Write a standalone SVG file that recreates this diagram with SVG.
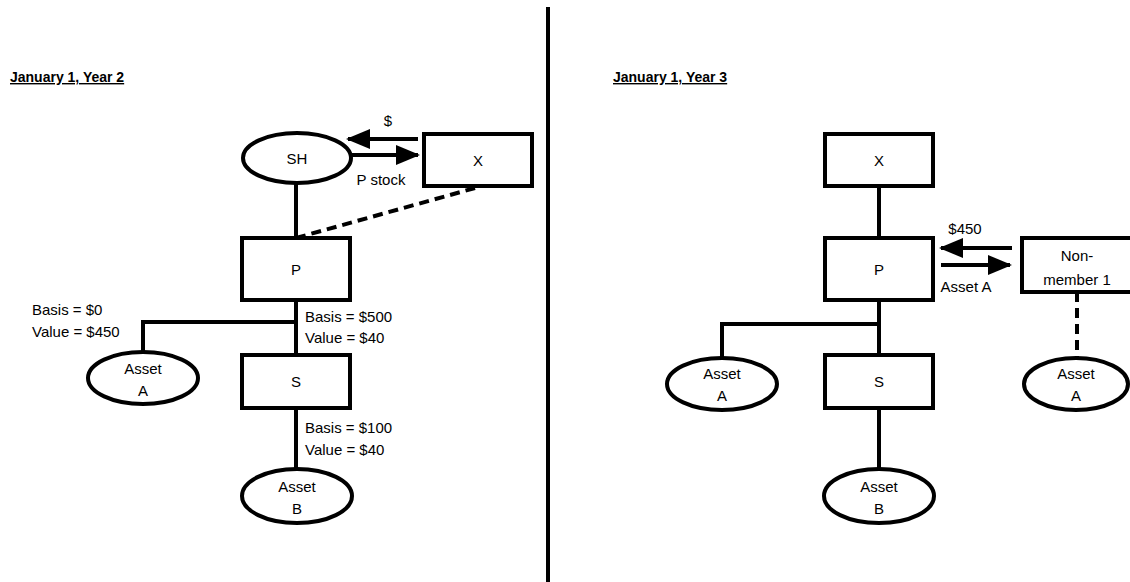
<svg xmlns="http://www.w3.org/2000/svg" width="1130" height="582" viewBox="0 0 1130 582">
<style>
text{font-family:"Liberation Sans",Arial,sans-serif;font-size:15px;fill:#000}
.t{font-weight:bold;font-size:14px;text-decoration:underline}
.c{text-anchor:middle}
.n{fill:#fff;stroke:#000;stroke-width:4}
.l{stroke:#000;stroke-width:4;fill:none}
.d{stroke:#000;stroke-width:4;fill:none;stroke-dasharray:10,6}
</style>
<defs>
<marker id="ah" markerWidth="6" markerHeight="5" refX="5.5" refY="2.5" orient="auto" markerUnits="strokeWidth">
<path d="M0,0 L6,2.5 L0,5 Z" fill="#000"/>
</marker>
</defs>
<rect width="1130" height="582" fill="#fff"/>
<line x1="548" y1="7" x2="548" y2="582" stroke="#000" stroke-width="4"/>
<text class="t" x="10" y="82">January 1, Year 2</text>
<text class="t" x="613" y="82">January 1, Year 3</text>
<g id="connectors">
<line class="l" x1="296" y1="183" x2="296" y2="238"/>
<line class="d" x1="296" y1="238" x2="475" y2="188"/>
<line class="l" x1="418" y1="139" x2="348" y2="139" marker-end="url(#ah)"/>
<line class="l" x1="352" y1="155" x2="418" y2="155" marker-end="url(#ah)"/>
<line class="l" x1="296" y1="300" x2="296" y2="355"/>
<polyline class="l" points="296,322 143,322 143,352"/>
<line class="l" x1="296" y1="408" x2="296" y2="470"/>
<line class="l" x1="879" y1="187" x2="879" y2="238"/>
<line class="l" x1="1012" y1="248" x2="941" y2="248" marker-end="url(#ah)"/>
<line class="l" x1="941" y1="265" x2="1010" y2="265" marker-end="url(#ah)"/>
<line class="l" x1="879" y1="300" x2="879" y2="355"/>
<polyline class="l" points="879,324 722,324 722,358"/>
<line class="l" x1="879" y1="408" x2="879" y2="470"/>
<line class="d" x1="1077" y1="292" x2="1077" y2="358"/>
</g>
<text class="c" x="388" y="126">$</text>
<text class="c" x="381" y="185">P stock</text>
<text x="32" y="315">Basis = $0</text>
<text x="32" y="337">Value = $450</text>
<text x="305" y="322">Basis = $500</text>
<text x="305" y="343">Value = $40</text>
<text x="305" y="433">Basis = $100</text>
<text x="305" y="455">Value = $40</text>
<text class="c" x="965" y="234">$450</text>
<text class="c" x="966" y="292">Asset A</text>
<g id="SH"><ellipse class="n" cx="297" cy="158" rx="54" ry="25"/><text class="c" x="297" y="164">SH</text></g>
<g id="X1"><rect class="n" x="424" y="134" width="108" height="52"/><text class="c" x="478" y="166">X</text></g>
<g id="P1"><rect class="n" x="242" y="238" width="108" height="62"/><text class="c" x="296" y="275">P</text></g>
<g id="S1"><rect class="n" x="242" y="355" width="108" height="53"/><text class="c" x="296" y="387">S</text></g>
<g id="AssetA1"><ellipse class="n" cx="143" cy="378" rx="55" ry="26"/><text class="c" x="143" y="374">Asset</text><text class="c" x="143" y="396">A</text></g>
<g id="AssetB1"><ellipse class="n" cx="297" cy="496" rx="55" ry="27"/><text class="c" x="297" y="492">Asset</text><text class="c" x="297" y="514">B</text></g>
<g id="X2"><rect class="n" x="825" y="134" width="108" height="52"/><text class="c" x="879" y="166">X</text></g>
<g id="P2"><rect class="n" x="825" y="238" width="108" height="62"/><text class="c" x="879" y="275">P</text></g>
<g id="NM1"><rect class="n" x="1022" y="238" width="120" height="54"/><text class="c" x="1077" y="261">Non-</text><text class="c" x="1077" y="285">member 1</text></g>
<g id="S2"><rect class="n" x="825" y="355" width="108" height="53"/><text class="c" x="879" y="387">S</text></g>
<g id="AssetA2"><ellipse class="n" cx="722" cy="384" rx="55" ry="26"/><text class="c" x="722" y="379">Asset</text><text class="c" x="722" y="401">A</text></g>
<g id="AssetA3"><ellipse class="n" cx="1076" cy="384" rx="52" ry="26"/><text class="c" x="1076" y="379">Asset</text><text class="c" x="1076" y="401">A</text></g>
<g id="AssetB2"><ellipse class="n" cx="879" cy="496" rx="55" ry="27"/><text class="c" x="879" y="492">Asset</text><text class="c" x="879" y="514">B</text></g>
</svg>
